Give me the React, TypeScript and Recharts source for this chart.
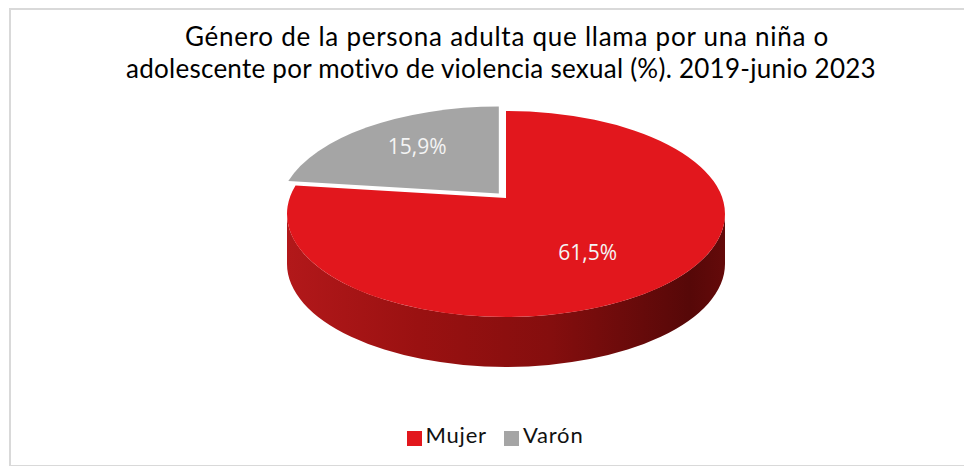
import { PieChart, Pie, Cell, Legend } from "recharts";

const categories = ["Mujer", "Varón"];
const shares = [61.5, 15.9];
const colors = ["#e2171d", "#a5a5a5"];

const title = [
  "Género de la persona adulta que llama por una niña o",
  "adolescente por motivo de violencia sexual (%). 2019-junio 2023",
];
const titleSpacing = [0.75, 0.25];
const titleShift = [0, -6];

const data = categories.map((name, i) => ({ name, value: shares[i] }));

const FONT = "Lato, 'Open Sans', sans-serif";
const RAD = Math.PI / 180;
const SQUASH = 0.47; // ellipse ry / rx
const DEPTH = 50; // height of the pie side
const APEX_LIFT = 16; // perspective: apex sits a bit above the ellipse centre
const EXPLODE = 12;
const MARGIN = { top: 0, right: 0, bottom: 18, left: 43 };

// point on the top ellipse for a recharts angle (0 = 3 o'clock, counter-clockwise)
const pt = (cx: number, cy: number, r: number, a: number) => [
  cx + r * Math.cos(a * RAD),
  cy - r * SQUASH * Math.sin(a * RAD),
];

const offsetFor = (name: string, mid: number) =>
  name === "Varón"
    ? [EXPLODE * Math.cos(mid * RAD), -EXPLODE * SQUASH * Math.sin(mid * RAD)]
    : [0, 0];

function Sector3D(props: any) {
  const { cx, cy, outerRadius: r, startAngle, endAngle, fill, payload } = props;
  const name = payload?.name ?? props.name;
  const mid = (startAngle + endAngle) / 2;
  const [ox, oy] = offsetFor(name, mid);
  const X = cx + ox;
  const Y = cy + oy;
  const ry = r * SQUASH;
  const hi = Math.max(startAngle, endAngle);
  const lo = Math.min(startAngle, endAngle);
  const [sx, sy] = pt(X, Y, r, hi);
  const [ex, ey] = pt(X, Y, r, lo);
  const large = hi - lo > 180 ? 1 : 0;
  const top = `M${X},${Y - APEX_LIFT} L${sx},${sy} A${r},${ry} 0 ${large} 1 ${ex},${ey} Z`;

  // front wall: parts of the arc lying in the lower half (angles 0 .. -180)
  const walls: string[] = [];
  for (const k of [-360, 0, 360]) {
    const a1 = Math.min(hi, 0 + k);
    const a2 = Math.max(lo, -180 + k);
    if (a1 > a2) {
      const [x1, y1] = pt(X, Y, r, a1);
      const [x2, y2] = pt(X, Y, r, a2);
      walls.push(
        `M${x1},${y1} A${r},${ry} 0 0 1 ${x2},${y2} L${x2},${y2 + DEPTH} A${r},${ry} 0 0 0 ${x1},${y1 + DEPTH} Z`
      );
    }
  }
  const gid = `wall-${name}`;
  const isGrey = name === "Varón";
  return (
    <g>
      <defs>
        <linearGradient id={gid} x1="0" y1="0" x2="1" y2="0">
          <stop offset="0%" stopColor={isGrey ? "#8a8a8a" : "#b2181a"} />
          <stop offset="30%" stopColor={isGrey ? "#7a7a7a" : "#9a1111"} />
          <stop offset="60%" stopColor={isGrey ? "#666" : "#850e0e"} />
          <stop offset="92%" stopColor={isGrey ? "#4a4a4a" : "#560808"} />
          <stop offset="100%" stopColor={isGrey ? "#555" : "#640a0a"} />
        </linearGradient>
      </defs>
      {walls.map((d, i) => (
        <path key={i} d={d} fill={`url(#${gid})`} />
      ))}
      {isGrey && (
        <path
          d={`M${X},${Y - APEX_LIFT} L${ex},${ey} L${ex},${ey + 6} Z`}
          fill="#4d4d4d"
        />
      )}
      <path d={top} fill={fill} />
    </g>
  );
}

function renderLabel(props: any) {
  const { cx, cy, outerRadius: r, midAngle, value, name } = props;
  const [ox, oy] = offsetFor(name, midAngle);
  const k = 0.62;
  const x = cx + ox + k * r * Math.cos(midAngle * RAD);
  const y = cy + oy - k * r * SQUASH * Math.sin(midAngle * RAD) - 13;
  return (
    <text
      x={x}
      y={y}
      fill="#f4f4f4"
      fontSize={21}
      fontFamily="'Open Sans', sans-serif"
      textAnchor="middle"
      dominantBaseline="central"
    >
      {value.toFixed(1).replace(".", ",")}%
    </text>
  );
}

export default function App() {
  return (
    <div
      style={{
        position: "absolute",
        left: 0,
        top: 0,
        width: 964,
        height: 466,
        overflow: "hidden",
        background: "#fff",
        fontFamily: FONT,
      }}
    >
      <div
        style={{
          position: "absolute",
          left: 9,
          top: 8,
          width: 1000,
          height: 455,
          border: "2px solid #d9d9d9",
        }}
      />
      <div
        style={{
          position: "absolute",
          left: 0,
          top: 20,
          width: 1014,
          textAlign: "center",
          fontSize: 26,
          lineHeight: "32px",
          color: "#000",
        }}
      >
        {title.map((t, i) => (
          <div
            key={t}
            style={{ letterSpacing: titleSpacing[i], position: "relative", left: titleShift[i] }}
          >
            {t}
          </div>
        ))}
      </div>
      <div style={{ position: "absolute", left: 0, top: 0 }}>
        <PieChart width={964} height={466} margin={MARGIN}>
          <Pie
            data={data}
            dataKey="value"
            nameKey="name"
            cx={506 - MARGIN.left}
            cy={214}
            outerRadius={219}
            startAngle={90}
            endAngle={-270}
            stroke="none"
            shape={Sector3D}
            label={renderLabel}
            labelLine={false}
            isAnimationActive={false}
          >
            {data.map((d, i) => (
              <Cell key={d.name} fill={colors[i]} />
            ))}
          </Pie>
          <Legend
            verticalAlign="bottom"
            align="center"
            iconType="square"
            iconSize={15}
            formatter={(v: string) => (
              <span
                style={{
                  color: "#111",
                  fontSize: 22,
                  letterSpacing: 0.8,
                  fontFamily: FONT,
                  marginRight: 7,
                }}
              >
                {v}
              </span>
            )}
          />
        </PieChart>
      </div>
    </div>
  );
}
